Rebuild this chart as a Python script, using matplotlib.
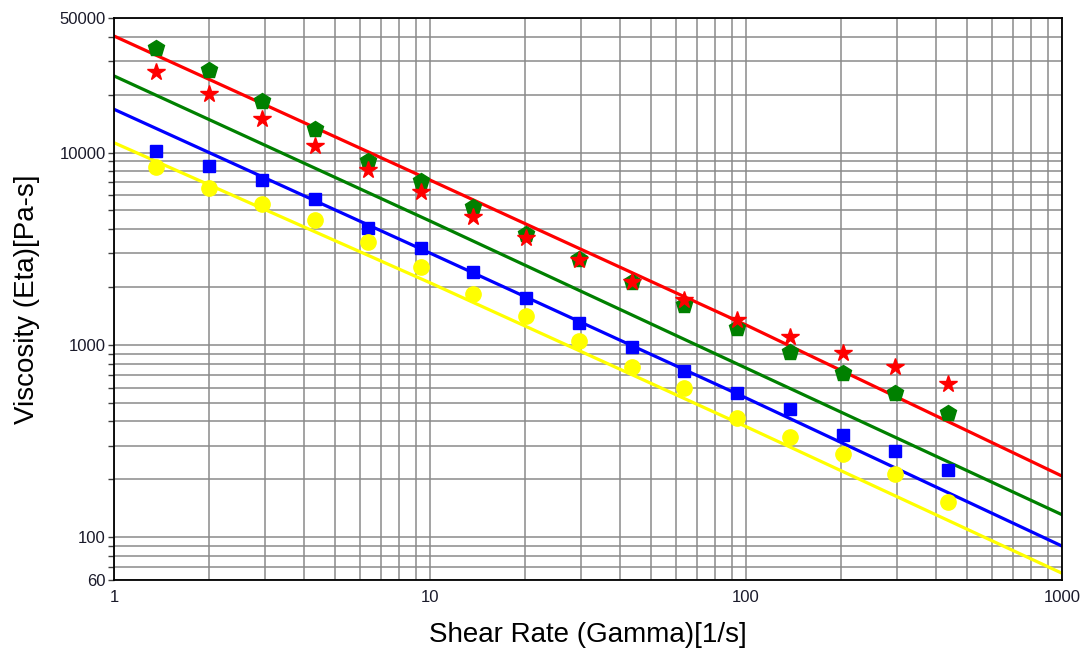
import numpy as np
import matplotlib.pyplot as plt
from matplotlib.ticker import FixedLocator, LogLocator, NullFormatter

plt.rcParams['font.family'] = ['Liberation Sans', 'DejaVu Sans']

# measured shear rates (1/s)
shear_rate = [1.36, 2.0, 2.94, 4.33, 6.35, 9.33, 13.7, 20.1,
              29.5, 43.4, 63.8, 93.7, 138, 203, 297, 436]

# measured viscosities (Pa-s)
eta_green = [35000, 26800, 18600, 13200, 9030, 7110, 5190, 3770,
             2790, 2120, 1610, 1220, 922, 711, 560, 441]
eta_red = [26300, 20100, 14900, 10800, 8100, 6260, 4630, 3600,
           2760, 2120, 1710, 1346, 1104, 911, 770, 623]
eta_blue = [10180, 8530, 7190, 5730, 4035, 3200, 2380, 1754,
            1300, 975, 731, 564, 466, 339, 281, 224]
eta_yellow = [8430, 6510, 5380, 4460, 3437, 2550, 1830, 1413,
              1048, 767, 597, 418, 333, 271, 213, 152]

# model curves
fit_rate = [1, 10, 100, 1000]
fit_red = [40300, 7190, 1269, 208]
fit_green = [25000, 4405, 758, 131]
fit_blue = [16770, 3000, 530, 90]
fit_yellow = [11240, 2103, 376, 65]

fig = plt.figure(figsize=(10.86, 6.55), dpi=100)
ax = fig.add_axes([0.105, 0.1145, 0.873, 0.858])

ax.plot(fit_rate, fit_red, color="#ff0000", lw=2.3, zorder=3)
ax.plot(fit_rate, fit_green, color="#008000", lw=2.3, zorder=3)
ax.plot(fit_rate, fit_blue, color="#0000ff", lw=2.3, zorder=3)
ax.plot(fit_rate, fit_yellow, color="#ffff00", lw=2.3, zorder=3)

ax.plot(shear_rate, eta_green, ls="none", marker="p", ms=12,
        color="#008000", zorder=4)
ax.plot(shear_rate, eta_red, ls="none", marker="*", ms=13,
        color="#ff0000", zorder=5)
ax.plot(shear_rate, eta_blue, ls="none", marker="s", ms=9,
        color="#0000ff", zorder=4)
ax.plot(shear_rate, eta_yellow, ls="none", marker="o", ms=11,
        color="#ffff00", zorder=4)

ax.set_xscale("log")
ax.set_yscale("log")
ax.set_xlim(1, 1000)
ax.set_ylim(60, 50000)

ax.yaxis.set_major_locator(FixedLocator([60, 100, 1000, 10000, 50000]))
ax.yaxis.set_major_formatter(plt.FuncFormatter(lambda v, p: f"{v:g}"))
ax.yaxis.set_minor_locator(LogLocator(base=10, subs=np.arange(2, 10)))
ax.yaxis.set_minor_formatter(NullFormatter())
ax.xaxis.set_major_formatter(plt.FuncFormatter(lambda v, p: f"{v:g}"))
ax.xaxis.set_minor_locator(LogLocator(base=10, subs=np.arange(2, 10)))
ax.xaxis.set_minor_formatter(NullFormatter())

ax.grid(True, which="both", color="#8a8a8a", lw=1.1, zorder=1)
ax.tick_params(axis="x", which="both", length=0, pad=7, labelsize=12,
               labelcolor="#1a1a2a")
ax.tick_params(axis="y", which="both", length=4, width=1, color="#404040",
               pad=2, labelsize=12, labelcolor="#1a1a2a")
for s in ax.spines.values():
    s.set_linewidth(1.3)
    s.set_color("black")
    s.set_zorder(6)

ax.set_xlabel("Shear Rate (Gamma)[1/s]", fontsize=20)
ax.set_ylabel("Viscosity (Eta)[Pa-s]", fontsize=20)
ax.xaxis.set_label_coords(0.5, -0.075)
ax.yaxis.set_label_coords(-0.0785, 0.5)

fig.savefig("out.png", dpi=100)
